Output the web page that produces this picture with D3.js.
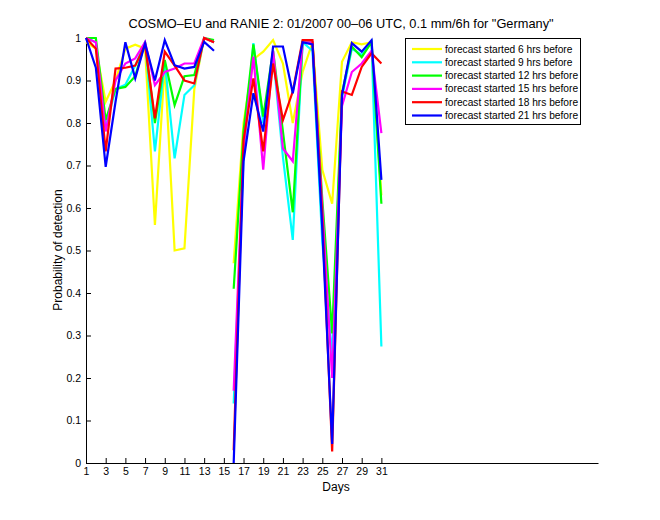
<!DOCTYPE html>
<html><head><meta charset="utf-8">
<script src="https://cdn.jsdelivr.net/npm/d3@7"></script>
<style>body{margin:0;background:#fff;} text{font-family:"Liberation Sans",Arial,sans-serif;}</style>
</head><body>
<svg id="c" width="660" height="520"></svg>
<script>
const days = d3.range(1, 32);
const xTicks = d3.range(1, 32, 2);
const yTicks = d3.range(0, 11).map(d => d / 10);
const seriesNames = ["forecast started 6 hrs before","forecast started 9 hrs before","forecast started 12 hrs before","forecast started 15 hrs before","forecast started 18 hrs before","forecast started 21 hrs before"];
const seriesColors = ["#ffff00","#00ffff","#00ff00","#ff00ff","#ff0000","#0000ff"];
const s6  = [0.99,0.975,0.85,0.90,0.975,0.984,0.975,0.56,0.94,0.50,0.505,0.88,1.0,0.99,null,0.47,0.80,0.95,0.968,0.995,0.94,0.80,0.92,0.99,0.69,0.61,0.944,0.99,0.985,0.99,0.63];
const s9  = [1.0,0.99,0.79,0.88,0.89,0.935,0.99,0.733,0.944,0.717,0.866,0.889,1.0,0.99,null,0.14,0.72,0.988,0.80,0.96,0.72,0.525,0.99,0.97,0.52,0.25,0.86,0.975,0.96,0.99,0.274];
const s12 = [1.0,1.0,0.807,0.88,0.885,0.91,0.99,0.80,0.948,0.842,0.91,0.913,1.0,0.995,null,0.41,0.78,0.985,0.815,0.97,0.78,0.59,0.99,0.99,0.62,0.305,0.87,0.98,0.955,0.99,0.61];
const s15 = [1.0,0.99,0.78,0.90,0.94,0.952,0.99,0.889,0.92,0.928,0.94,0.94,1.0,0.99,null,0.17,0.74,0.956,0.69,0.97,0.74,0.71,0.99,0.99,0.60,0.20,0.84,0.92,0.94,0.97,0.776];
const s18 = [1.0,0.975,0.733,0.928,0.93,0.935,0.984,0.811,0.968,0.935,0.90,0.893,1.0,0.99,null,0.03,0.76,0.905,0.733,0.94,0.807,0.874,0.995,0.995,0.58,0.027,0.874,0.866,0.932,0.964,0.94];
const s21 = [1.0,0.93,0.697,0.85,0.99,0.905,0.987,0.90,0.995,0.936,0.928,0.932,0.991,0.97,null,0.0,0.71,0.87,0.78,0.98,0.98,0.87,0.99,0.985,0.55,0.045,0.866,0.988,0.968,0.995,0.666];
const seriesValues = [s6,s9,s12,s15,s18,s21];

const svg = d3.select("#c");
const L = 86, R = 598, T = 38, B = 463;
const x = d3.scaleLinear().domain([1, 53]).range([L, R]);
const y = d3.scaleLinear().domain([0, 1]).range([B, T]);

// title
svg.append("text").attr("x", 341).attr("y", 28).attr("text-anchor","middle")
  .attr("font-size", 12.8).text("COSMO\u2013EU and RANIE 2: 01/2007 00\u201306 UTC, 0.1 mm/6h for \"Germany\"");

// axes
const xAxis = d3.axisBottom(x).tickValues(xTicks).tickSizeInner(-5).tickSizeOuter(0).tickPadding(5).tickFormat(d3.format("d"));
const gx = svg.append("g").attr("transform", `translate(0,${B})`).call(xAxis);
const yAxis = d3.axisLeft(y).tickValues(yTicks).tickSizeInner(-5).tickSizeOuter(0).tickPadding(5).tickFormat(d => d === 0 ? "0" : d === 1 ? "1" : d3.format(".1f")(d));
const gy = svg.append("g").attr("transform", `translate(${L},0)`).call(yAxis);
[gx, gy].forEach(g => {
  g.select(".domain").attr("stroke", "#000");
  g.selectAll(".tick line").attr("stroke", "#000");
  g.selectAll("text").attr("font-size", 10.5).attr("fill", "#000").attr("font-family", "Liberation Sans, Arial, sans-serif");
});

svg.append("text").attr("x", 336).attr("y", 491).attr("text-anchor","middle").attr("font-size", 12).text("Days");
svg.append("text").attr("transform", "translate(62,250) rotate(-90)").attr("text-anchor","middle").attr("font-size", 12).text("Probability of detection");

// lines
const line = d3.line().defined(d => d.v !== null).x(d => x(d.d)).y(d => y(d.v));
seriesValues.forEach((vals, i) => {
  svg.append("path").datum(days.map((d, j) => ({d, v: vals[j]})))
    .attr("fill","none").attr("stroke", seriesColors[i]).attr("stroke-width", 2.2)
    .attr("stroke-linejoin","miter").attr("d", line);
});

// legend
const lg = svg.append("g");
lg.append("rect").attr("x", 405.5).attr("y", 38.5).attr("width", 175).attr("height", 86)
  .attr("fill", "#fff").attr("stroke", "#000").attr("stroke-width", 1);
seriesNames.forEach((n, i) => {
  const yy = 49 + i * 13.3;
  lg.append("line").attr("x1", 412).attr("x2", 442).attr("y1", yy).attr("y2", yy)
    .attr("stroke", seriesColors[i]).attr("stroke-width", 2.2);
  lg.append("text").attr("x", 445).attr("y", yy + 3.5).attr("font-size", 10.2).text(n);
});
</script>
</body></html>
